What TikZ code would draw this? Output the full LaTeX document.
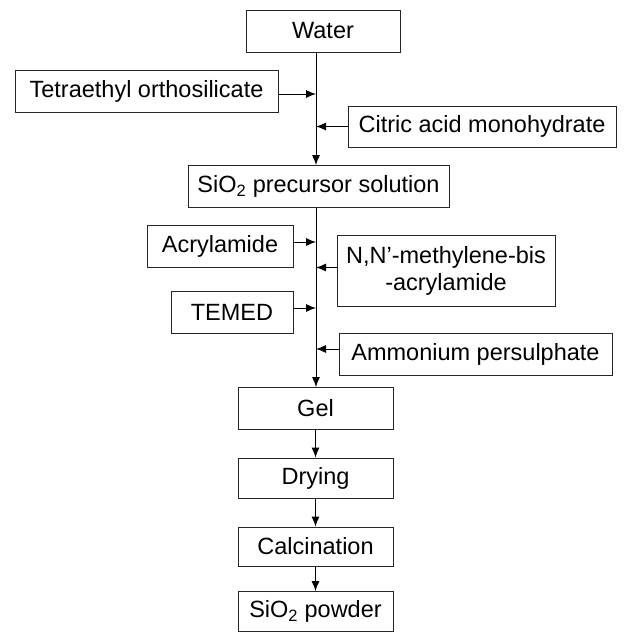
\documentclass[tikz,border=0pt]{standalone}
\usepackage{fontspec}
\setmainfont{Liberation Sans}
\usetikzlibrary{arrows.meta}

\tikzset{
  stage/.style={draw=black!85, line width=0.9pt, minimum height=42pt,
                inner sep=0pt, font=\fontsize{23.5}{27}\selectfont},
  feed/.style={stage, align=center},
}

\begin{document}
\begin{tikzpicture}[->,
            >={Latex[length=10pt,width=8pt]},
            x=1pt, y=-1pt,
            line width=0.9pt]
        \useasboundingbox (0,0) rectangle (625,632);

        \coordinate (spine) at (316,0);

        % main line
        \node[stage, minimum width=154pt] (water)     at (323,31)    {Water};
        \node[stage, minimum width=261pt] (precursor) at (318.5,186.5) {SiO\textsubscript{2} precursor solution};
        \node[stage, minimum width=155pt] (gel)       at (315.5,408.5) {Gel};
        \node[stage, minimum width=155pt, minimum height=40pt] (drying) at (315.5,478) {Drying};
        \node[stage, minimum width=155pt, minimum height=39pt] (calc)   at (315.5,546.5) {Calcination};
        \node[stage, minimum width=155pt, minimum height=40pt] (powder) at (315.5,611.5) {SiO\textsubscript{2} powder};

        % additions
        \node[feed, minimum width=263pt] (teos)    at (146.5,91)  {Tetraethyl orthosilicate};
        \node[feed, minimum width=268pt, minimum height=41pt] (citric) at (482,126.5) {Citric acid monohydrate};
        \node[feed, minimum width=146pt] (acryl)   at (220,246)   {Acrylamide};
        \node[feed, minimum width=218pt, minimum height=71pt] (bis) at (446,270.5) {N,N’-methylene-bis\\-acrylamide};
        \node[feed, minimum width=122pt] (temed)   at (232,312)   {TEMED};
        \node[feed, minimum width=273pt] (aps)     at (475.5,354) {Ammonium persulphate};

        \draw (water.south -| spine) -- (precursor.north -| spine);
        \draw (precursor.south -| spine) -- (gel.north -| spine);
        \draw (gel) -- (drying);
        \draw (drying) -- (calc);
        \draw (calc) -- (powder);

        \draw ([yshift=-3pt]teos.east)  -- ([yshift=-3pt]teos.east -| spine);
        \draw (citric.west)             -- (citric.west -| spine);
        \draw ([yshift=4pt]acryl.east)  -- ([yshift=4pt]acryl.east -| spine);
        \draw ([yshift=3pt]bis.west)    -- ([yshift=3pt]bis.west -| spine);
        \draw ([yshift=4pt]temed.east)  -- ([yshift=4pt]temed.east -| spine);
        \draw ([yshift=5pt]aps.west)    -- ([yshift=5pt]aps.west -| spine);

    \end{tikzpicture}
\end{document}
